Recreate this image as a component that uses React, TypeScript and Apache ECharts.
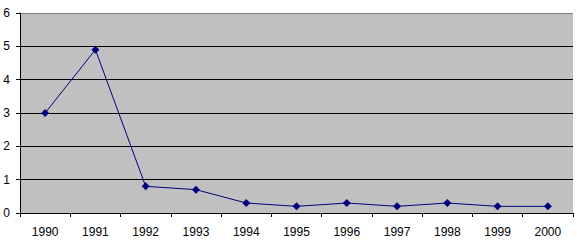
import React, { useEffect, useRef } from "react";
import * as echarts from "echarts";

const years = ["1990", "1991", "1992", "1993", "1994", "1995", "1996", "1997", "1998", "1999", "2000"];
const values = [3, 4.9, 0.8, 0.7, 0.3, 0.2, 0.3, 0.2, 0.3, 0.2, 0.2];

export default function App() {
  const ref = useRef<HTMLDivElement>(null);
  useEffect(() => {
    const chart = echarts.init(ref.current!, null, { renderer: "svg" });
    chart.setOption({
      animation: false,
      grid: {
        left: 20,
        right: 4,
        top: 13,
        bottom: 31,
        show: true,
        backgroundColor: "#C0C0C0",
        borderWidth: 0,
      },
      xAxis: {
        type: "category",
        data: years,
        boundaryGap: true,
        axisLine: { lineStyle: { color: "#000", width: 1 } },
        axisTick: { show: true, length: 4, alignWithLabel: false, lineStyle: { color: "#000" } },
        axisLabel: { color: "#000", fontFamily: "Liberation Sans", fontSize: 12, margin: 13 },
      },
      yAxis: {
        type: "value",
        min: 0,
        max: 6,
        interval: 1,
        axisLine: { show: true, lineStyle: { color: "#000", width: 1 } },
        axisTick: { show: true, length: 4, lineStyle: { color: "#000" } },
        axisLabel: { color: "#000", fontFamily: "Liberation Sans", fontSize: 12, margin: 10 },
        splitLine: {
          show: true,
          lineStyle: { color: ["#000", "#000", "#000", "#000", "#000", "#000", "#808080"], width: 1 },
        },
      },
      series: [
        {
          type: "line",
          data: values,
          symbol: "diamond",
          symbolSize: 8,
          itemStyle: { color: "#000080" },
          lineStyle: { color: "#000080", width: 1 },
        },
      ],
    });
    return () => chart.dispose();
  }, []);
  return <div ref={ref} style={{ position: "absolute", left: 0, top: 0, width: 577, height: 244 }} />;
}
